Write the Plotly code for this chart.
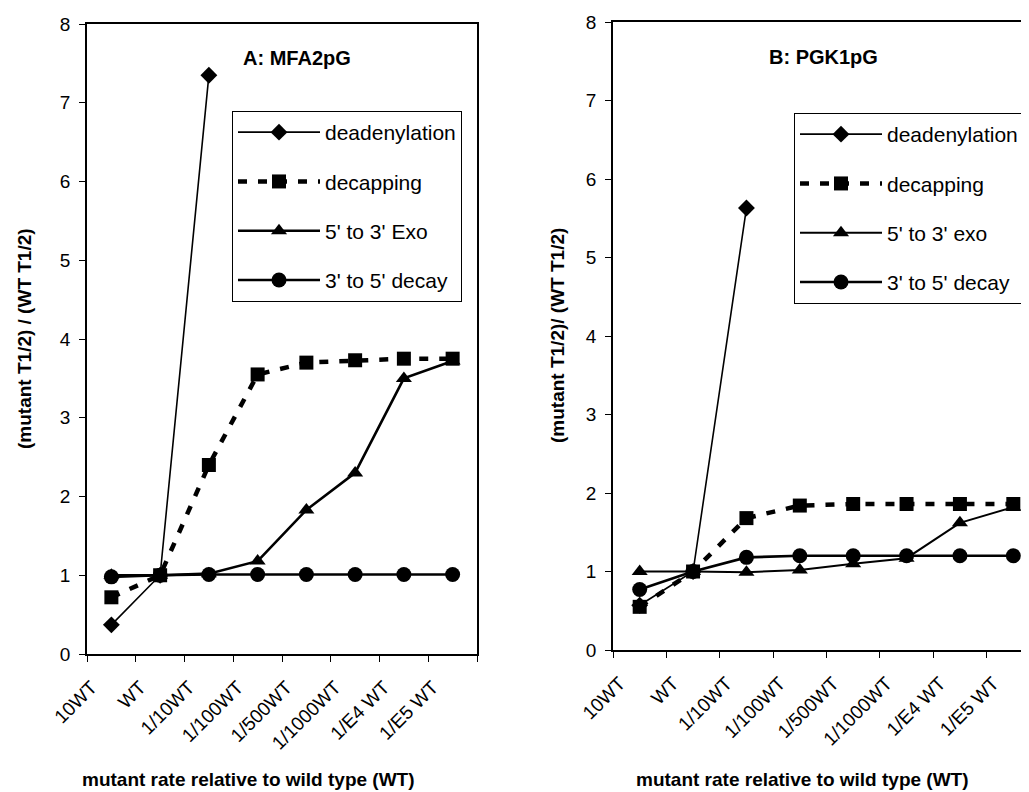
import plotly.graph_objects as go

categories = ["10WT", "WT", "1/10WT", "1/100WT", "1/500WT", "1/1000WT", "1/E4 WT", "1/E5 WT"]

# Panel A: MFA2pG
a_deadenylation = [0.37, 1.0, 7.35]
a_decapping = [0.72, 1.0, 2.40, 3.55, 3.70, 3.73, 3.75, 3.75]
a_exo53 = [1.0, 1.0, 1.02, 1.18, 1.83, 2.30, 3.50, 3.72]
a_decay35 = [0.98, 1.0, 1.01, 1.01, 1.01, 1.01, 1.01, 1.01]

# Panel B: PGK1pG
b_deadenylation = [0.57, 1.0, 5.63]
b_decapping = [0.55, 1.0, 1.68, 1.84, 1.86, 1.86, 1.86, 1.86]
b_exo53 = [1.0, 1.0, 0.99, 1.02, 1.10, 1.17, 1.62, 1.82]
b_decay35 = [0.77, 1.0, 1.18, 1.20, 1.20, 1.20, 1.20, 1.20]

# page body offset of the figure inside the browser window
OFF = 8
W, H = 1029 - OFF, 792 - OFF
FONT = "Liberation Sans, Arial, sans-serif"

fig = go.Figure()

def add_panel(xa, ya, legend, dead, decap, exo, decay, exo_name, exo_w):
    specs = [
        ("deadenylation", dead, "diamond", 13, dict(width=1.6, dash="solid")),
        ("decapping", decap, "square", 14, dict(width=4.5, dash="9px,11px")),
        (exo_name, exo, "triangle-up", 14, dict(width=exo_w, dash="solid")),
        ("3' to 5' decay", decay, "circle", 15, dict(width=2.6, dash="solid")),
    ]
    for i, (name, vals, sym, size, line) in enumerate(specs):
        fig.add_trace(go.Scatter(
            x=categories[:len(vals)], y=vals, name=name, mode="lines+markers",
            xaxis=xa, yaxis=ya, legend=legend, legendgroup=f"{legend}{i}",
            line=dict(color="black", **line),
            marker=dict(symbol=sym, size=size, color="black"),
        ))

add_panel("x", "y", "legend", a_deadenylation, a_decapping, a_exo53, a_decay35, "5' to 3' Exo", 2.6)
add_panel("x2", "y2", "legend2", b_deadenylation, b_decapping, b_exo53, b_decay35, "5' to 3' exo", 2.0)

def px(x):
    return (x - OFF) / W

def py(y):
    return 1 - (y - OFF) / H

axis_common = dict(showgrid=False, zeroline=False, linecolor="black", linewidth=1.5,
                   ticks="outside", tickcolor="black", ticklen=6, tickwidth=1.2,
                   automargin=False,
                   tickfont=dict(family=FONT, size=19, color="black"))
xcommon = dict(type="category", categoryorder="array", categoryarray=categories,
               tickson="boundaries", tickangle=-45, showline=True, mirror=True,
               ticklabelshift=-20, ticklabelstandoff=13, **axis_common)
ycommon = dict(range=[0, 8], dtick=1, showline=True, ticklabelstandoff=5, **axis_common)

legend_common = dict(xanchor="left", yanchor="top", bordercolor="black", borderwidth=1,
                     bgcolor="white", itemwidth=82,
                     font=dict(family=FONT, size=21, color="black"), tracegroupgap=19)

fig.update_layout(
    template="none",
    width=W, height=H, margin=dict(l=0, r=0, t=0, b=0, pad=0),
    paper_bgcolor="white", plot_bgcolor="white",
    font=dict(family=FONT, color="black"),
    xaxis=dict(domain=[px(87), px(477)], anchor="y", range=[-0.5, 7.5], **xcommon),
    yaxis=dict(domain=[py(654), py(24)], anchor="x", mirror=True, **ycommon),
    xaxis2=dict(domain=[px(613), 1], anchor="y2", range=[-0.5, 7.294], **xcommon),
    yaxis2=dict(domain=[py(650), py(22)], anchor="x2", mirror=False, **ycommon),
    legend=dict(x=px(232), y=py(111), **legend_common),
    legend2=dict(x=px(794), y=py(113), **legend_common),
    showlegend=True,
)

title_font = dict(family=FONT, size=19, color="black")
common = dict(xref="paper", yref="paper", showarrow=False, xanchor="center", yanchor="middle")
annotations = [
    dict(text="<b>A: MFA2pG</b>", x=px(297), y=py(58),
         font=dict(family=FONT, size=20, color="black"), **common),
    dict(text="<b>B: PGK1pG</b>", x=px(823), y=py(57),
         font=dict(family=FONT, size=20, color="black"), **common),
    dict(text="<b>(mutant T1/2) / (WT T1/2)</b>", x=px(25), y=py(339), textangle=-90,
         font=title_font, **common),
    dict(text="<b>(mutant T1/2)/ (WT T1/2)</b>", x=px(557), y=py(336), textangle=-90,
         font=title_font, **common),
    dict(text="<b>mutant rate relative to wild type (WT)</b>", x=px(248), y=py(779),
         font=title_font, **common),
    dict(text="<b>mutant rate relative to wild type (WT)</b>", x=px(802), y=py(779),
         font=title_font, **common),
]
fig.update_layout(annotations=annotations)

fig.write_html("out.html")
